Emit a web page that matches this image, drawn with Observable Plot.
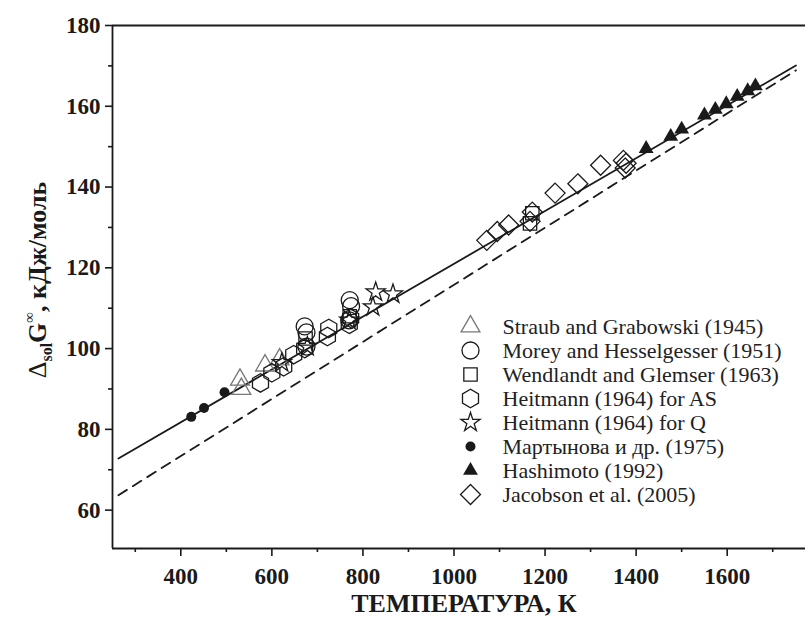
<!DOCTYPE html>
<html><head><meta charset="utf-8">
<script src="https://cdn.jsdelivr.net/npm/d3@7"></script>
<script src="https://cdn.jsdelivr.net/npm/@observablehq/plot@0.6"></script>
<style>
body{margin:0;background:#fff}
#wrap{position:relative;width:805px;height:630px}
#legend{position:absolute;left:440px;top:290px}
</style>
</head><body><div id="wrap"><div id="legend"></div></div>
<script>
// ---- data ----
const names = [
  "Straub and Grabowski (1945)",
  "Morey and Hesselgesser (1951)",
  "Wendlandt and Glemser (1963)",
  "Heitmann (1964) for AS",
  "Heitmann (1964) for Q",
  "Мартынова и др. (1975)",
  "Hashimoto (1992)",
  "Jacobson et al. (2005)"
];
const straubT = [530, 533, 585, 617];
const straubV = [92.3, 90.0, 95.8, 97.3];
const moreyT = [672, 676, 676, 770, 771, 774];
const moreyV = [105.5, 104.0, 100.5, 107.0, 112.0, 110.5];
const wendT = [674, 771, 1167, 1172];
const wendV = [102.5, 108.0, 131.0, 133.5];
const heitAsT = [575, 600, 626, 648, 672, 722, 725, 770, 773];
const heitAsV = [91.5, 94.0, 95.5, 98.5, 100.0, 103.0, 105.0, 106.0, 107.5];
const heitQT = [622, 678, 770, 822, 828, 866];
const heitQV = [96.5, 100.5, 107.0, 110.3, 114.0, 113.5];
const martT = [423, 451, 496];
const martV = [83.1, 85.3, 89.2];
const hashT = [1422, 1476, 1500, 1550, 1574, 1598, 1622, 1645, 1662];
const hashV = [149.5, 152.5, 154.3, 157.8, 159.2, 160.6, 162.4, 163.8, 165.0];
const jacT = [1072, 1095, 1120, 1167, 1172, 1222, 1272, 1322, 1372, 1376, 1378];
const jacV = [126.8, 129.0, 130.6, 131.5, 133.8, 138.5, 140.8, 145.4, 146.6, 144.7, 145.9];

const fitT = [263, 1751];
const fitSolid = [72.8, 170.1];
const fitDashed = [63.7, 168.9];

const xDomain = [250, 1772];
const yDomain = [50.5, 180];
const xMajor = [400, 600, 800, 1000, 1200, 1400, 1600];
const xMinor = [300, 500, 700, 900, 1100, 1300, 1500, 1700];
const yMajor = [60, 80, 100, 120, 140, 160, 180];
const yMinor = [70, 90, 110, 130, 150, 170];

// ---- styles ----
const dark = "#1a1a1a";
const styles = [
  {symbol: "triangle2", r: 9, stroke: "#777", fill: "none"},
  {symbol: "circle", r: 8.5, stroke: dark, fill: "none"},
  {symbol: "square2", r: 8.5, stroke: dark, fill: "none"},
  {symbol: "hexagon", r: 8, stroke: dark, fill: "none"},
  {symbol: "star", r: 6, stroke: dark, fill: "none"},
  {symbol: "circle", r: 5, stroke: "none", fill: dark},
  {symbol: "triangle", r: 5.5, stroke: "none", fill: dark},
  {symbol: "diamond2", r: 9, stroke: dark, fill: "none"}
];
const seriesT = [straubT, moreyT, wendT, heitAsT, heitQT, martT, hashT, jacT];
const seriesV = [straubV, moreyV, wendV, heitAsV, heitQV, martV, hashV, jacV];

const rows = [];
names.forEach((n, i) => seriesT[i].forEach((t, j) => rows.push({series: n, idx: i, T: t, V: seriesV[i][j]})));
const fitRows = fitT.map((t, i) => ({T: t, solid: fitSolid[i], dashed: fitDashed[i]}));

const dotMarks = names.map((n, i) => Plot.dot(rows.filter(d => d.idx === i), {
  x: "T", y: "V", symbol: styles[i].symbol, r: styles[i].r,
  stroke: styles[i].stroke, fill: styles[i].fill, strokeWidth: 1.3
}));

const fmt = d3.format("d");
const plot = Plot.plot({
  width: 805, height: 630,
  marginLeft: 112, marginTop: 25, marginRight: 0, marginBottom: 82,
  x: {domain: xDomain},
  y: {domain: yDomain},
  style: {fontFamily: "Liberation Serif", color: dark, background: "#fff"},
  marks: [
    Plot.line(fitRows, {x: "T", y: "solid", stroke: dark, strokeWidth: 1.8}),
    Plot.line(fitRows, {x: "T", y: "dashed", stroke: dark, strokeWidth: 1.8, strokeDasharray: "10,7"}),
    ...dotMarks,
    Plot.axisX(xMajor, {tickSize: 8, tickPadding: 11, fontSize: 23, fontWeight: "bold", label: null, tickFormat: fmt, strokeWidth: 1.6}),
    Plot.axisX(xMinor, {tickSize: 4, tickFormat: () => "", label: null, strokeWidth: 1.6}),
    Plot.axisY(yMajor, {tickSize: 7, tickPadding: 5, fontSize: 23, fontWeight: "bold", label: null, tickFormat: fmt, strokeWidth: 1.6}),
    Plot.axisY(yMinor, {tickSize: 4, tickFormat: () => "", label: null, strokeWidth: 1.6}),
    Plot.ruleX([xDomain[0]], {stroke: dark, strokeWidth: 1.8}),
    Plot.ruleY([yDomain[0], yDomain[1]], {stroke: dark, strokeWidth: 1.8})
  ]
});

const svg = d3.select(plot);
// y-axis title
const yt = svg.append("text")
  .attr("transform", "translate(46,280) rotate(-90)")
  .attr("text-anchor", "middle")
  .attr("font-family", "Liberation Serif")
  .attr("font-weight", "bold")
  .attr("font-size", 26)
  .attr("fill", dark);
yt.append("tspan").attr("font-weight", "normal").text("Δ");
yt.append("tspan").attr("font-size", 16).attr("dy", 6).text("sol");
yt.append("tspan").attr("dy", -6).text("G");
yt.append("tspan").attr("font-size", 15).attr("font-weight", "normal").attr("dy", -12).text("∞");
yt.append("tspan").attr("dy", 12).text(", кДж/моль");
// x-axis title
svg.append("text")
  .attr("x", 464).attr("y", 612)
  .attr("text-anchor", "middle")
  .attr("font-family", "Liberation Serif")
  .attr("font-weight", "bold")
  .attr("font-size", 26)
  .attr("fill", dark)
  .text("ТЕМПЕРАТУРА, К");

document.getElementById("wrap").prepend(plot);
plot.style.position = "absolute";
plot.style.left = "0"; plot.style.top = "0";

// legend
const legend = Plot.plot({
  width: 365, height: 240, margin: 0,
  y: {type: "point", domain: names, range: [23, 216], axis: null},
  style: {fontFamily: "Liberation Serif", background: "transparent", overflow: "visible"},
  marks: [
    ...names.map((n, i) => Plot.dot([n], {
      y: d => d, frameAnchor: "left", dx: 30,
      symbol: styles[i].symbol, r: styles[i].r,
      stroke: styles[i].stroke, fill: styles[i].fill, strokeWidth: 1.3
    })),
    Plot.text(names, {y: d => d, frameAnchor: "left", dx: 62, text: d => d, textAnchor: "start", fontSize: 22, fill: "#222"})
  ]
});
document.getElementById("legend").appendChild(legend);
</script>
</body></html>
